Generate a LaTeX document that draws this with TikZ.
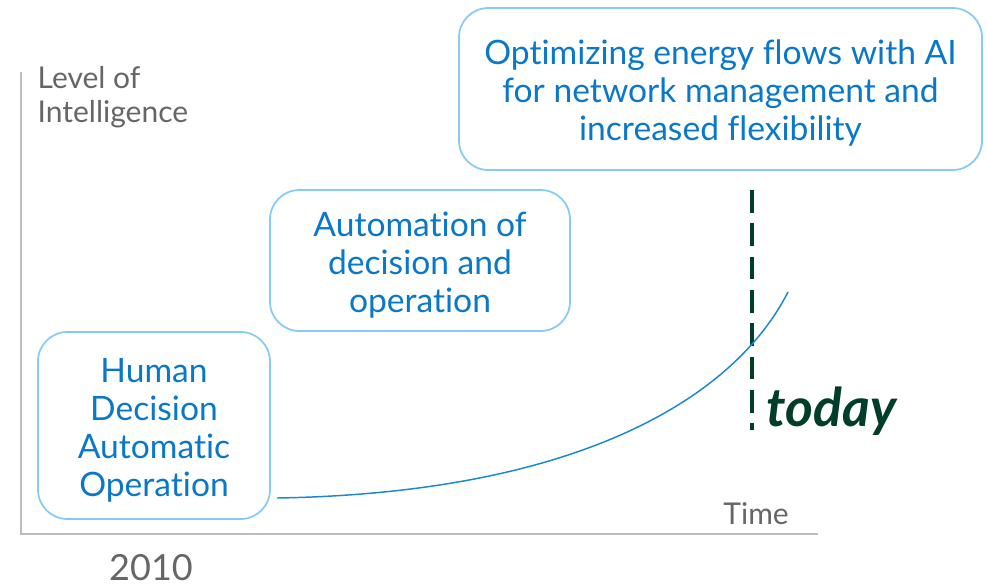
\documentclass[tikz,border=0pt]{standalone}
\usepackage{fontspec}
\setmainfont{Lato}[Ligatures=NoCommon]
\usetikzlibrary{positioning}
\definecolor{boxline}{HTML}{86CBF5}
\definecolor{boxtext}{HTML}{0A78C8}
\definecolor{curveblue}{HTML}{1A88D0}
\definecolor{axisgray}{HTML}{BDBDBD}
\definecolor{labelgray}{HTML}{666666}
\definecolor{todaygreen}{HTML}{003D2B}
\newcommand{\firstline}{\rule{0pt}{25pt}}
\begin{document}
\begin{tikzpicture}[x=0.75pt, y=-0.75pt,
    stage/.style={rectangle, rounded corners=22pt, draw=boxline, line width=1.3pt,
      text=boxtext, align=center, font=\fontsize{25.2}{28.5}\selectfont},
    axislabel/.style={text=labelgray, font=\fontsize{22.5}{25.5}\selectfont}]
  \useasboundingbox (0,0) rectangle (987,586);
  % Axes
  \coordinate (ytop) at (21,72);
  \coordinate (origin) at (21,534);
  \coordinate (xend) at (818,534);
  \draw[axisgray, line width=1pt] (ytop) -- (origin) -- (xend);
  \node (ylab) [axislabel, align=left, anchor=north west] at (33,62) {Level of\\Intelligence};
  \node (xlab) [axislabel, anchor=base east, inner sep=0pt] at (789,524) {Time};
  \node (year) [text=labelgray, font=\fontsize{27}{30}\selectfont, anchor=base, inner sep=0pt] at (151,580) {2010};
  % Stages
  \node (s1) [stage, minimum width=232*0.75pt, minimum height=187*0.75pt] at (154,425.5)
    {\firstline Human\\Decision\\Automatic\\Operation};
  \node (s2) [stage, minimum width=300*0.75pt, minimum height=141*0.75pt] at (420,260.5)
    {\firstline Automation of\\decision and\\operation};
  \node (s3) [stage, minimum width=523*0.75pt, minimum height=162*0.75pt] at (720.5,89)
    {\firstline Optimizing energy flows with AI\\for network management and\\increased flexibility};
  % Today
  \coordinate (ttop) at (752,190);
  \coordinate (tbot) at (752,430);
  \draw[todaygreen, line width=3pt, dash pattern=on 17pt off 8pt] (ttop) -- (tbot);
  \node (today) [text=todaygreen, font=\fontsize{40}{44}\selectfont\bfseries\itshape, anchor=base west] at (762,426) {today};
  % Curve
  \coordinate (cstart) at (277,498);
  \coordinate (cend) at (788,292);
  \draw[curveblue, line width=1.1pt] (cstart) .. controls (575,493) and (733,400) .. (cend);
\end{tikzpicture}
\end{document}
